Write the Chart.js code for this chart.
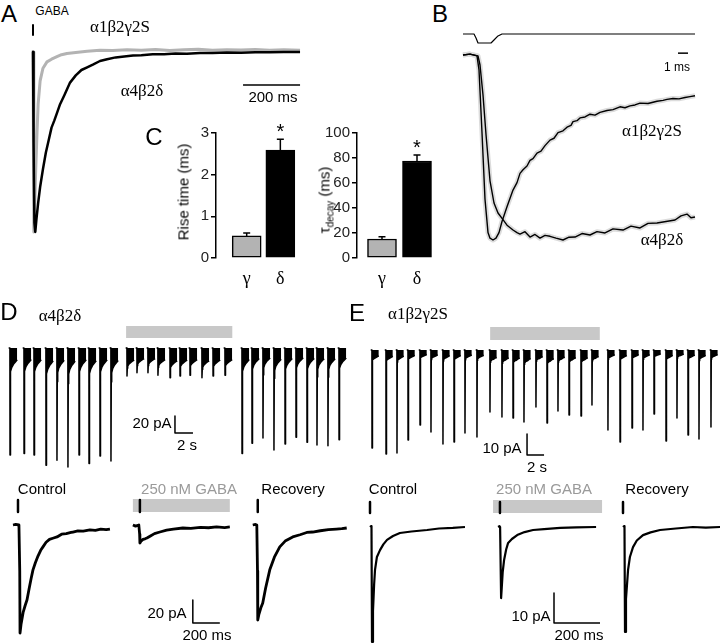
<!DOCTYPE html>
<html>
<head>
<meta charset="utf-8">
<script src="https://cdn.jsdelivr.net/npm/chart.js@4.4.0/dist/chart.umd.min.js"></script>
<style>
body { margin:0; background:#fff; }
#fig { position:relative; width:720px; height:643px; overflow:hidden; font-family:"Liberation Sans", Arial, sans-serif; color:#000; }
#fig canvas { position:absolute; }
.t { position:absolute; transform:translate(-50%,-50%); white-space:nowrap; font-size:15px; line-height:1; z-index:5; }
.serif { font-family:"Liberation Serif", "Times New Roman", serif; font-size:17px; }
.big { font-size:24px; }
.small { font-size:12px; }
.rot { transform:translate(-50%,-50%) rotate(-90deg); }
.grey { color:#9a9a9a; }
sub { font-size:10px; }
</style>
</head>
<body>
<div id="fig"></div>
<script>
// A: normalised currents, time in ms
var A_t_gray = [-4, 0, 3, 6, 9, 14, 18, 25, 35, 49, 65, 84, 100, 119, 150, 190, 235, 280, 330, 380, 430, 480, 530, 580, 630, 680, 730, 780, 830, 880, 937];
var A_gray = [0, 0, -1.0, -0.85, -0.68, -0.45, -0.29, -0.16, -0.09, -0.055, -0.04, -0.026, -0.015, -0.008, -0.003, 0.004, 0.01, 0.008, 0.013, 0.01, 0.014, 0.009, 0.012, 0.015, 0.01, 0.013, 0.011, 0.014, 0.01, 0.012, 0.01];
var A_t_black = [-4, 0, 2, 5, 8, 12, 18, 25, 35, 45, 55, 65, 75, 84, 95, 110, 130, 150, 170, 190, 210, 235, 260, 290, 320, 351, 380, 420, 460, 500, 540, 586, 630, 680, 730, 780, 830, 880, 937];
var A_black = [0, 0, -0.5, -0.95, -1.0, -0.93, -0.84, -0.75, -0.65, -0.56, -0.49, -0.42, -0.38, -0.34, -0.29, -0.24, -0.17, -0.13, -0.1, -0.085, -0.07, -0.05, -0.04, -0.03, -0.025, -0.02, -0.018, -0.012, -0.012, -0.008, -0.01, -0.006, -0.006, -0.003, -0.004, -0.001, -0.002, 0, 0];
var A_gaba_mark = [0.15, 0.094];
var A_scale_t = [737, 937];
var A_scale_y = -0.183;

// B: normalised, time in ms
var B_t_gamma = [0, 0.7, 1.4, 1.6, 1.9, 2.2, 2.5, 2.7, 3.0, 3.3, 3.6, 3.9, 4.4, 5.0, 5.4, 5.7, 6.0, 6.4, 6.7, 7.0, 7.4, 7.8, 8.2, 8.7, 9.1, 9.5, 10.0, 10.4, 10.8, 11.0, 11.4, 11.7, 12.2, 12.7, 13.2, 13.7, 14.4, 15.0, 15.7, 16.2, 16.7, 17.2, 17.7, 18.5, 19.4, 20.0, 20.4, 21.0, 21.6, 22.2, 22.7, 23.2];
var B_gamma = [0, 0.005, -0.005, -0.08, -0.42, -0.78, -0.96, -0.99, -1.0, -0.99, -0.96, -0.9, -0.82, -0.73, -0.69, -0.64, -0.62, -0.6, -0.57, -0.56, -0.53, -0.52, -0.49, -0.46, -0.45, -0.42, -0.41, -0.39, -0.38, -0.36, -0.355, -0.34, -0.335, -0.32, -0.325, -0.31, -0.3, -0.295, -0.28, -0.285, -0.275, -0.27, -0.26, -0.262, -0.25, -0.245, -0.24, -0.235, -0.237, -0.23, -0.225, -0.22];
var B_t_delta = [0, 0.7, 1.5, 1.7, 2.0, 2.3, 2.7, 3.1, 3.5, 4.0, 4.4, 5.0, 5.4, 5.7, 6.2, 6.7, 7.2, 7.7, 8.2, 8.7, 9.3, 10.0, 10.6, 11.2, 11.9, 12.7, 13.4, 14.2, 15.0, 16.0, 16.8, 17.7, 18.5, 19.4, 20.3, 21.2, 21.8, 22.4, 22.8, 23.2];
var B_delta = [0, 0.005, -0.005, -0.054, -0.216, -0.43, -0.68, -0.8, -0.854, -0.89, -0.92, -0.946, -0.96, -0.968, -0.955, -0.984, -0.97, -0.99, -0.975, -0.98, -0.99, -1.0, -0.985, -0.984, -0.965, -0.973, -0.955, -0.962, -0.94, -0.946, -0.925, -0.935, -0.91, -0.908, -0.9, -0.892, -0.87, -0.86, -0.88, -0.876];
var B_t_pulse = [0, 1.1, 1.3, 1.5, 2.8, 3.1, 3.5, 3.9, 23.2];
var B_pulse = [0.1135, 0.1135, 0.092, 0.065, 0.065, 0.081, 0.103, 0.1135, 0.1135];
var B_scale_t = [21.5, 22.5];
var B_scale_y = 0.01;

// C
var groups = ["γ", "δ"];
var rise_mean = [0.53, 2.59];
var rise_err = [0.07, 0.26];
var tau_mean = [15.2, 77.6];
var tau_err = [1.8, 4.8];
var signif = ["", "*"];

// D/E top: sweep onset (s) and peak (pA)
var D_sweep_t_ctrl = [0, 1.56, 2.67, 4.0, 5.22, 6.44, 7.67, 8.78, 10.0, 11.22];
var D_amp_ctrl = [126, 124, 126, 138, 132, 140, 126, 136, 127, 133];
var D_sweep_t_gaba = [13.0, 14.11, 15.33, 16.44, 17.78, 18.89, 20.0, 21.33, 22.56, 23.89];
var D_amp_gaba = [33, 29, 29, 32, 35, 33, 32, 35, 33, 32];
var D_sweep_t_rec = [25.78, 26.89, 28.11, 29.33, 30.56, 31.78, 33.0, 34.11, 35.33, 36.56];
var D_amp_rec = [124, 112, 106, 120, 113, 105, 111, 114, 115, 108];
var D_gaba_bar = [12.9, 24.7];
var D_gaba_bar_y = 18.8;

var E_sweep_t_ctrl = [0, 1.65, 2.94, 4.24, 5.65, 6.94, 8.35, 9.65, 10.94, 12.35];
var E_amp_ctrl = [46.7, 49.5, 49, 42.9, 35.7, 39, 44.8, 43.8, 39.5, 41.4];
var E_sweep_t_gaba = [13.88, 15.29, 16.59, 17.88, 19.29, 20.59, 21.88, 23.18, 24.59, 25.88];
var E_amp_gaba = [29.5, 31.9, 32.4, 34.3, 27.1, 34.8, 29, 31, 31.4, 26.2];
var E_sweep_t_rec = [27.76, 29.18, 30.59, 31.88, 33.18, 34.59, 35.88, 37.18, 38.47, 39.88];
var E_amp_rec = [38.1, 43.8, 37.1, 38.1, 30.5, 43.3, 32.4, 40.5, 42.4, 36.7];
var E_gaba_bar = [13.9, 26.8];
var E_gaba_bar_y = 7.9;

// sweep shape (fraction of peak) vs time from onset (s)
var sweep_rel = [-0.15, -0.01, 0, 0.03, 0.08, 0.2, 0.4, 0.6, 0.8];
var shape_D = [0, 0, -1, -0.3, -0.22, -0.18, -0.15, -0.13, -0.11];
var shape_D_gaba = [0, 0, -1, -0.72, -0.65, -0.58, -0.52, -0.47, -0.43];
var shape_E = [0, 0, -1, -0.12, -0.1, -0.09, -0.08, -0.07, -0.06];
var shape_E_gaba = [0, 0, -1, -0.2, -0.18, -0.16, -0.15, -0.13, -0.12];

var D_scale_top = [[18.33, -80], [18.33, -100], [20.33, -100]];
var E_scale_top = [[18.24, -40], [18.24, -50], [20.24, -50]];

// D/E bottom: single responses, time in ms, pA
var D_ctrl_t = [0, 20, 44, 50, 52, 60, 75, 90, 104, 120, 135, 148, 165, 185, 205, 222, 245, 270, 295, 326, 360, 395, 430, 444, 480, 520, 570, 610, 650, 690, 718];
var D_ctrl = [0, 0.5, 0, -40, -94, -86, -76, -70, -65, -55, -46, -39, -33, -27, -22, -19, -15, -12.5, -11.5, -10.4, -8, -7.5, -6.5, -6.1, -5.2, -5.4, -4.3, -4.6, -3.6, -4, -3.5];
var D_gaba_t = [0, 20, 44, 50, 52, 60, 75, 90, 104, 130, 160, 200, 250, 300, 370, 430, 500, 560, 620, 680, 718];
var D_gaba = [0, -1, 0, -8, -15.7, -14, -12.5, -12, -11.3, -9.5, -7.5, -6.1, -4.5, -3.5, -2.6, -3, -2, -2.4, -1.7, -2.2, -1.7];
var D_rec_t = [0, 20, 30, 35, 37, 45, 60, 74, 95, 126, 160, 200, 240, 296, 350, 400, 444, 500, 560, 620, 660, 696];
var D_rec = [0, 0.5, 0, -40, -82.6, -78, -72, -67.8, -55, -39, -28, -19, -14, -10.4, -8.5, -6.5, -6.1, -5, -4, -3.5, -3.2, -2.6];
var D_starts = [0, 888, 1776];
var D_marks = [37, 940, 1813];
var D_mark_y = [21.7, 11.3];
var D_bar = [888, 1606];
var D_bar_y = 17;
var D_scale_bot = [[1332, -65.2], [1332, -85.2], [1532, -85.2]];

var E_ctrl_t = [0, 5, 6.5, 8.7, 13, 18, 21.8, 30, 43.5, 58, 74, 100, 130, 180, 248, 300, 360, 413];
var E_ctrl = [0, 0.3, 0, -38.3, -28, -19, -14.3, -10, -7.7, -5.8, -4.3, -3, -2, -1.5, -1, -0.5, -0.3, 0];
var E_gaba_t = [0, 6, 8.7, 13, 20, 26, 35, 43.5, 60, 83, 115, 152, 200, 270, 340, 426];
var E_gaba = [0, 0.3, 0, -23.7, -15, -11, -7.5, -5.3, -4, -2.7, -1.7, -1, -0.7, -0.3, -0.1, 0];
var E_rec_t = [0, 5, 6.5, 8.7, 13, 22, 30, 43.5, 60, 87, 120, 161, 230, 304, 360, 422];
var E_rec = [0, 0.3, 0, -35, -24, -14.3, -10, -6.7, -4.5, -2.7, -1.8, -1, -0.5, 0, -0.2, 0];
var E_starts = [0, 557, 1100];
var E_marks = [0, 565, 1100];
var E_mark_y = [8.3, 4.7];
var E_bar = [535, 1009];
var E_bar_y = 6.8;
var E_scale_bot = [[800, -22], [800, -32], [1000, -32]];

var GRAY_TRACE = "#b3b3b3";
var GRAY_BAR = "#c8c8c8";

Chart.defaults.font.family = '"Liberation Sans", Arial, sans-serif';
const fig = document.getElementById("fig");

function addCanvas(box) {
  const c = document.createElement("canvas");
  c.width = box[2]; c.height = box[3];
  c.style.left = box[0] + "px"; c.style.top = box[1] + "px";
  c.style.width = box[2] + "px"; c.style.height = box[3] + "px";
  fig.appendChild(c);
  return c;
}

function pts(t, v, t0) { return t.map((x, i) => ({x: x + (t0 || 0), y: v[i]})); }
function pairs(p) { return p.map(q => ({x: q[0], y: q[1]})); }

function line(data, color, width, extra) {
  return Object.assign({data: data, borderColor: color, borderWidth: width, pointRadius: 0,
    tension: 0, fill: false, clip: false, borderCapStyle: "butt", borderJoinStyle: "round"}, extra || {});
}

function sweeps(times, amps, shape) {
  const out = [];
  times.forEach((t0, i) => {
    sweep_rel.forEach((r, j) => out.push({x: t0 + r, y: shape[j] * amps[i]}));
    out.push({x: t0 + 0.85, y: null});
  });
  return out;
}

// cal = [x px of data 0, y px of data 0, px per x unit, px per y unit]
// datasets are listed in paint order (last one on top)
function traceChart(box, cal, datasets) {
  const x0 = cal[0], y0 = cal[1], sx = cal[2], sy = cal[3];
  datasets.forEach((d, i) => { d.order = datasets.length - i; });
  return new Chart(addCanvas(box), {
    type: "line",
    data: {datasets: datasets},
    options: {
      responsive: false, animation: false, events: [],
      layout: {padding: 0},
      plugins: {legend: {display: false}, tooltip: {enabled: false}},
      scales: {
        x: {type: "linear", display: false, min: (box[0] - x0) / sx, max: (box[0] + box[2] - x0) / sx},
        y: {type: "linear", display: false, min: (y0 - box[1] - box[3]) / sy, max: (y0 - box[1]) / sy}
      }
    }
  });
}

// A
traceChart([20, 18, 295, 225], [33, 52, 0.285, 180], [
  line(pts(A_t_gray, A_gray), GRAY_TRACE, 3),
  line(pts(A_t_black, A_black), "#000", 2.5),
  line([{x: 0, y: A_gaba_mark[0]}, {x: 0, y: A_gaba_mark[1]}], "#000", 2),
  line(A_scale_t.map(t => ({x: t, y: A_scale_y})), "#000", 1.5)
]);

// B
traceChart([450, 25, 270, 235], [463, 55, 10, 185], [
  line(pts(B_t_delta, B_delta), "#dcdcdc", 5),
  line(pts(B_t_gamma, B_gamma), "#dcdcdc", 5),
  line(pts(B_t_delta, B_delta), "#000", 1.4),
  line(pts(B_t_gamma, B_gamma), "#000", 1.4),
  line(pts(B_t_pulse, B_pulse), "#000", 1.2),
  line(B_scale_t.map(t => ({x: t, y: B_scale_y})), "#000", 1.5)
]);

// C
const errorBars = {
  id: "errorBars",
  afterDatasetsDraw(chart, args, opts) {
    const ctx = chart.ctx, xs = chart.scales.x, ys = chart.scales.y;
    ctx.save();
    ctx.strokeStyle = "#000"; ctx.fillStyle = "#000"; ctx.lineWidth = 1.5;
    opts.means.forEach((m, i) => {
      const px = xs.getPixelForValue(i + 1);
      const base = ys.getPixelForValue(m), top = ys.getPixelForValue(m + opts.errs[i]);
      ctx.beginPath();
      ctx.moveTo(px, base); ctx.lineTo(px, top);
      ctx.moveTo(px - 3.5, top); ctx.lineTo(px + 3.5, top);
      ctx.stroke();
      if (opts.marks[i]) {
        ctx.font = '20px "Liberation Sans", Arial, sans-serif';
        ctx.textAlign = "center";
        ctx.fillText(opts.marks[i], px, top - 1);
      }
    });
    ctx.restore();
  }
};

function barChart(box, means, errs, yMax, yStep, xMin, xMax, axisW) {
  return new Chart(addCanvas(box), {
    type: "bar",
    data: {datasets: [{
      data: means.map((v, i) => ({x: i + 1, y: v})),
      backgroundColor: [GRAY_TRACE, "#000"],
      borderColor: "#000", borderWidth: 1.5, borderSkipped: false, barThickness: 29
    }]},
    options: {
      responsive: false, animation: false, events: [],
      layout: {padding: {top: 13, right: 0, left: 0, bottom: 0}},
      plugins: {legend: {display: false}, tooltip: {enabled: false},
        errorBars: {means: means, errs: errs, marks: signif}},
      scales: {
        x: {type: "linear", min: xMin, max: xMax, offset: false,
          grid: {display: false}, border: {display: false},
          ticks: {stepSize: 1, includeBounds: false, autoSkip: false, padding: 2, color: "#000",
            font: {family: '"Liberation Serif", "Times New Roman", serif', size: 18},
            callback: v => groups[v - 1] || ""},
          afterFit: s => { s.height = 40; }},
        y: {min: 0, max: yMax,
          grid: {display: true, drawOnChartArea: false, drawTicks: true, tickLength: 5, color: "#000", lineWidth: 1.5},
          border: {display: true, color: "#000", width: 1.5},
          ticks: {stepSize: yStep, padding: 2, color: "#222", font: {size: 15}},
          afterFit: s => { s.width = axisW; }}
      }
    },
    plugins: [errorBars]
  });
}

barChart([186, 120, 130, 178], rise_mean, rise_err, 3, 1, 0.088, 3.03, 30);
barChart([317, 120, 130, 178], tau_mean, tau_err, 100, 20, 0.286, 2.857, 40);

// D top
traceChart([0, 318, 360, 155], [10, 348, 9, 0.85], [
  line(D_gaba_bar.map(t => ({x: t, y: D_gaba_bar_y})), GRAY_BAR, 12),
  line(sweeps(D_sweep_t_ctrl, D_amp_ctrl, shape_D), "#000", 1.5, {fill: {value: 0}, backgroundColor: "#000"}),
  line(sweeps(D_sweep_t_gaba, D_amp_gaba, shape_D_gaba), "#000", 1.5, {fill: {value: 0}, backgroundColor: "#000"}),
  line(sweeps(D_sweep_t_rec, D_amp_rec, shape_D), "#000", 1.5, {fill: {value: 0}, backgroundColor: "#000"}),
  line(pairs(D_scale_top), "#000", 1.5)
]);

// E top
traceChart([360, 318, 360, 155], [372, 350, 8.5, 2.1], [
  line(E_gaba_bar.map(t => ({x: t, y: E_gaba_bar_y})), GRAY_BAR, 13),
  line(sweeps(E_sweep_t_ctrl, E_amp_ctrl, shape_E), "#000", 1.5, {fill: {value: 0}, backgroundColor: "#000"}),
  line(sweeps(E_sweep_t_gaba, E_amp_gaba, shape_E_gaba), "#000", 1.5, {fill: {value: 0}, backgroundColor: "#000"}),
  line(sweeps(E_sweep_t_rec, E_amp_rec, shape_E), "#000", 1.5, {fill: {value: 0}, backgroundColor: "#000"}),
  line(pairs(E_scale_top), "#000", 1.5)
]);

function markSets(marks, my) {
  return marks.map(t => line([{x: t, y: my[0]}, {x: t, y: my[1]}], "#000", 2.5));
}

// D bottom
traceChart([0, 478, 360, 165], [13, 525, 0.135, 1.15], [
  line(D_bar.map(t => ({x: t, y: D_bar_y})), GRAY_BAR, 13),
  line(pts(D_ctrl_t, D_ctrl, D_starts[0]), "#000", 2.8),
  line(pts(D_gaba_t, D_gaba, D_starts[1]), "#000", 2.8),
  line(pts(D_rec_t, D_rec, D_starts[2]), "#000", 2.8),
  line(pairs(D_scale_bot), "#000", 1.5)
].concat(markSets(D_marks, D_mark_y)));

// E bottom
traceChart([360, 478, 360, 165], [370, 527, 0.23, 3.0], [
  line(E_bar.map(t => ({x: t, y: E_bar_y})), GRAY_BAR, 13),
  line(pts(E_ctrl_t, E_ctrl, E_starts[0]), "#000", 2.2),
  line(pts(E_gaba_t, E_gaba, E_starts[1]), "#000", 2.2),
  line(pts(E_rec_t, E_rec, E_starts[2]), "#000", 2.2),
  line(pairs(E_scale_bot), "#000", 1.5)
].concat(markSets(E_marks, E_mark_y)));

// text
function label(html, x, y, cls) {
  const d = document.createElement("div");
  d.className = "t " + (cls || "");
  d.innerHTML = html;
  d.style.left = x + "px"; d.style.top = y + "px";
  fig.appendChild(d);
}

label("A", 9, 14, "big");
label("GABA", 52, 11, "small");
label("α1β2γ2S", 120, 26, "serif");
label("α4β2δ", 142, 90, "serif");
label("200 ms", 273, 96);
label("B", 440, 14, "big");
label("1 ms", 677, 67, "small");
label("α1β2γ2S", 652, 130, "serif");
label("α4β2δ", 662, 239, "serif");
label("C", 154, 137, "big");
label("Rise time (ms)", 183, 192, "rot");
label("τ<sub>decay</sub> (ms)", 326, 200, "rot");
label("D", 9, 312, "big");
label("α4β2δ", 60, 315, "serif");
label("E", 357, 313, "big");
label("α1β2γ2S", 418, 313, "serif");
label("20 pA", 152, 422);
label("2 s", 187, 444);
label("10 pA", 502, 447);
label("2 s", 537, 466);
label("Control", 42, 488);
label("250 nM GABA", 189, 488, "grey");
label("Recovery", 293, 488);
label("20 pA", 167, 612);
label("200 ms", 207, 634);
label("Control", 393, 488);
label("250 nM GABA", 544, 488, "grey");
label("Recovery", 657, 488);
label("10 pA", 531, 615);
label("200 ms", 579, 634);
</script>
</body>
</html>
